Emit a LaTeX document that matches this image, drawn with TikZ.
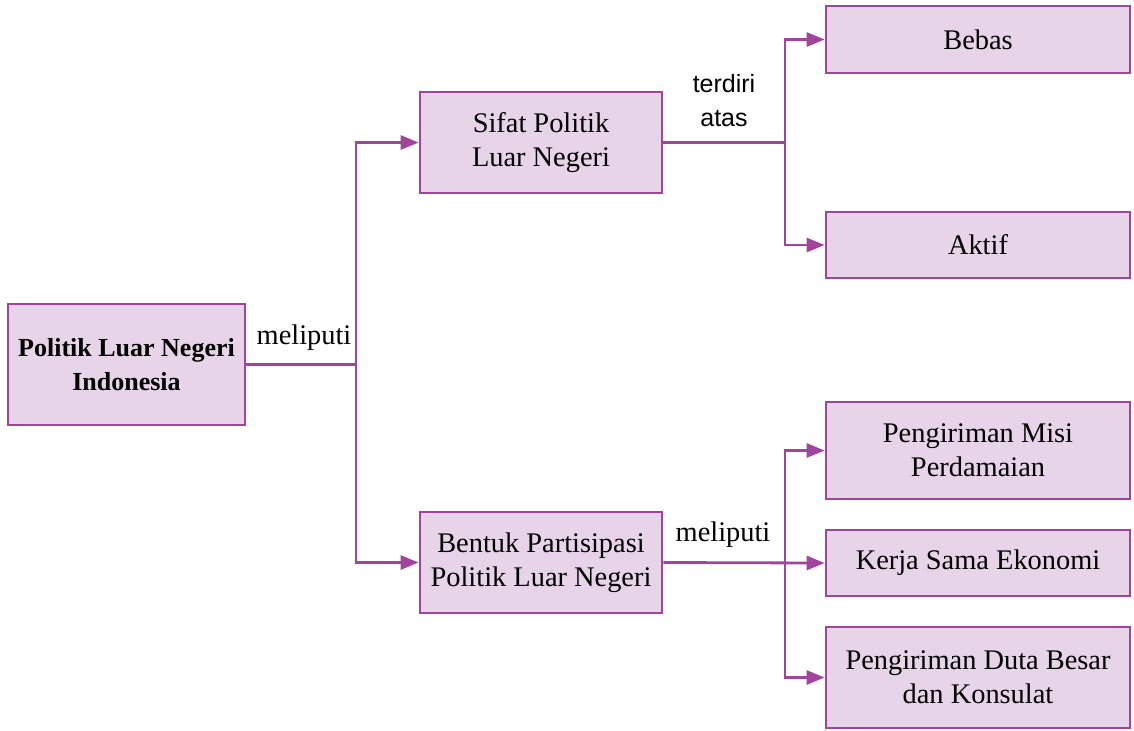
\documentclass[tikz,border=0pt]{standalone}
\usepackage{fontspec}
\setmainfont{Liberation Serif}
\newfontfamily\lblsans{Liberation Sans}
\usetikzlibrary{arrows.meta}
\definecolor{plum}{HTML}{A2449C}
\definecolor{plumfill}{HTML}{E7D4E8}
\tikzset{
  box/.style={draw=plum, fill=plumfill, line width=1.4pt, align=center, inner sep=0pt,
    font=\fontsize{14.2}{17}\selectfont},
  conn/.style={draw=plum, line width=1.4pt},
  arr/.style={conn, -{Triangle[length=9pt,width=7pt]}},
  lbl/.style={font=\fontsize{14.2}{17}\selectfont, align=center, inner sep=0pt}
}
\begin{document}
\begin{tikzpicture}[x=0.5pt,y=-0.5pt]
\useasboundingbox (0,0) rectangle (1134,730);
\node[box, minimum width=118.5pt, minimum height=60.5pt, font=\fontsize{13}{17}\selectfont\bfseries] (main) at (126.5,364.5)
  {Politik Luar Negeri\\Indonesia};
\node[box, minimum width=121pt, minimum height=50.5pt] (sifat) at (541,142.5) {Sifat Politik\\Luar Negeri};
\node[box, minimum width=121pt, minimum height=50.5pt] (bentuk) at (541,562.5) {Bentuk Partisipasi\\Politik Luar Negeri};
\node[box, minimum width=152pt, minimum height=33.5pt] (bebas) at (978,39.5) {Bebas};
\node[box, minimum width=152pt, minimum height=33pt] (aktif) at (978,245) {Aktif};
\node[box, minimum width=152pt, minimum height=48.5pt] (misi) at (978,450.5) {Pengiriman Misi\\Perdamaian};
\node[box, minimum width=152pt, minimum height=33pt] (kerja) at (978,563) {Kerja Sama Ekonomi};
\node[box, minimum width=152pt, minimum height=50.5pt] (duta) at (978,677.5) {Pengiriman Duta Besar\\dan Konsulat};

\coordinate (j1) at (356,364.5);
\coordinate (j2) at (785,142.5);
\coordinate (j3) at (785,563);

\draw[conn] (main.east) -- (j1);
\draw[arr] (j1) |- (sifat.west);
\draw[arr] (j1) |- (bentuk.west);
\draw[conn] (sifat.east) -- (j2);
\draw[arr] (j2) |- (bebas.west);
\draw[arr] (j2) |- (aktif.west);
\draw[arr] (bentuk.east) -- (kerja.west);
\draw[arr] (j3) |- (misi.west);
\draw[arr] (j3) |- (duta.west);

\node[lbl] (l1) at (304,338) {meliputi};
\node[lbl, font=\lblsans\fontsize{12.5}{17}\selectfont] (l2) at (724,101) {terdiri\\atas};
\node[lbl] (l3) at (723,535) {meliputi};
\end{tikzpicture}
\end{document}
